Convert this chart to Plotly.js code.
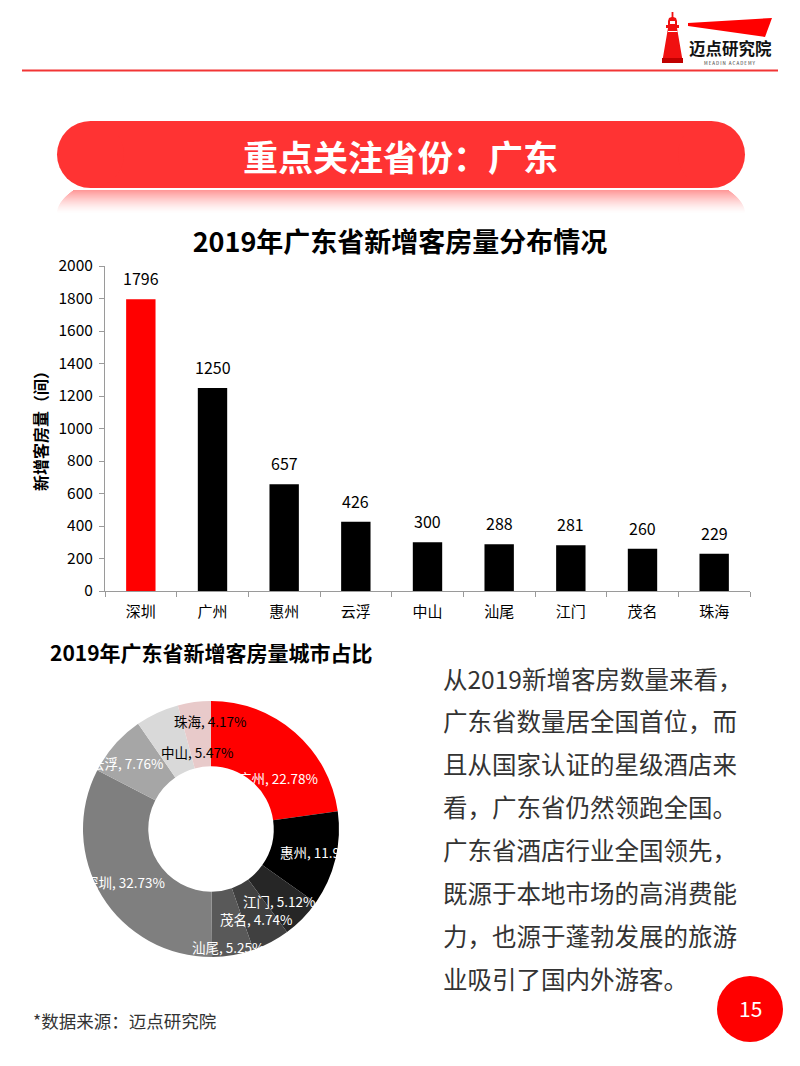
<!DOCTYPE html>
<html>
<head>
<meta charset="utf-8">
<script src="https://cdn.plot.ly/plotly-3.0.1.min.js"></script>
<style>
html,body{margin:0;padding:0;background:#fff;}
#chart{width:800px;height:1066px;}
</style>
</head>
<body>
<div id="chart"></div>
<script>
// ---- data ----
const cities = ['深圳','广州','惠州','云浮','中山','汕尾','江门','茂名','珠海'];
const rooms = [1796,1250,657,426,300,288,281,260,229];
const barColors = ['#ff0000','#000000','#000000','#000000','#000000','#000000','#000000','#000000','#000000'];
const yTicks = [0,200,400,600,800,1000,1200,1400,1600,1800,2000];
const pieOrder = ['广州','惠州','江门','茂名','汕尾','深圳','云浮','中山','珠海'];
const pieColors = ['#ff0000','#000000','#262626','#404040','#595959','#7f7f7f','#a6a6a6','#d9d9d9','#e8caca'];
const pieTextColors = ['#ffffff','#ffffff','#ffffff','#ffffff','#ffffff','#ffffff','#ffffff','#000000','#000000'];
const barTitle = '2019年广东省新增客房量分布情况';
const pieTitle = '2019年广东省新增客房量城市占比';
const yTitle = '新增客房量（间）';
const bannerText = '重点关注省份：广东';
const bodyLines = [
  '从2019新增客房数量来看，',
  '广东省数量居全国首位，而',
  '且从国家认证的星级酒店来',
  '看，广东省仍然领跑全国。',
  '广东省酒店行业全国领先，',
  '既源于本地市场的高消费能',
  '力，也源于蓬勃发展的旅游',
  '业吸引了国内外游客。'
];
const sourceText = '*数据来源：迈点研究院';
const pageNum = '15';

// label placement nudges (pixels) for the donut labels, in pieOrder
const pieLabelNudge = [[4,21],[16,0],[-1,5],[0,5],[0,23],[-4,3],[-12,-3],[26,10],[12,-13]];

// ---- helpers ----
const W = 800, H = 1066;
const FONT = "'Noto Sans CJK SC', 'Noto Sans', sans-serif";
const px = x => x / W;
const py = y => 1 - y / H;
const P = (x, y) => px(x) + ',' + py(y);

const shapes = [];
const annotations = [];

// header line
shapes.push({type:'rect', xref:'paper', yref:'paper', x0:px(22), x1:px(778), y0:py(71.5), y1:py(69.5), fillcolor:'#f23535', line:{width:0}});
// logo wedge
shapes.push({type:'path', xref:'paper', yref:'paper',
  path:'M'+P(688,23)+' L'+P(772,18)+' L'+P(765,37)+' L'+P(688,26)+' Z', fillcolor:'#ff0000', line:{width:0}});
// lighthouse
shapes.push({type:'path', xref:'paper', yref:'paper',
  path:'M'+P(671.6,12)+' L'+P(673.4,12)+' L'+P(673.4,17)+' L'+P(676,18)+' L'+P(677,21)+' L'+P(677,25)+
       ' L'+P(679,25)+' L'+P(679,28)+' L'+P(677,28)+' L'+P(683,63)+' L'+P(662,63)+' L'+P(668,28)+
       ' L'+P(666,28)+' L'+P(666,25)+' L'+P(668,25)+' L'+P(668,21)+' L'+P(669,18)+' L'+P(671.6,17)+' Z',
  fillcolor:'#f01010', line:{width:0}});
shapes.push({type:'rect', xref:'paper', yref:'paper', x0:px(670), x1:px(675), y0:py(24), y1:py(21), fillcolor:'#ffffff', line:{width:0}});
shapes.push({type:'rect', xref:'paper', yref:'paper', x0:px(668), x1:px(677.5), y0:py(32), y1:py(31), fillcolor:'#ffffff', line:{width:0}});
shapes.push({type:'rect', xref:'paper', yref:'paper', x0:px(662), x1:px(683), y0:py(63), y1:py(58), fillcolor:'#c00000', line:{width:0}});
annotations.push({xref:'paper', yref:'paper', x:px(730), y:py(48), xanchor:'center', yanchor:'middle', showarrow:false,
  text:'<b>迈点研究院</b>', font:{family:FONT, size:16.5, color:'#111'}});
annotations.push({xref:'paper', yref:'paper', x:px(730), y:py(63), xanchor:'center', yanchor:'middle', showarrow:false,
  text:'M E A D I N &nbsp; A C A D E M Y', font:{family:FONT, size:4.5, color:'#333'}});

// banner
const bc = '#ff3333';
shapes.push({type:'rect', xref:'paper', yref:'paper', x0:px(90), x1:px(712), y0:py(188), y1:py(121), fillcolor:bc, line:{width:0}});
shapes.push({type:'circle', xref:'paper', yref:'paper', x0:px(57), x1:px(124), y0:py(188), y1:py(121), fillcolor:bc, line:{width:0}});
shapes.push({type:'circle', xref:'paper', yref:'paper', x0:px(678), x1:px(745), y0:py(188), y1:py(121), fillcolor:bc, line:{width:0}});
// banner reflection (fading strips)
for (let d = 0; d < 23; d++) {
  const f = 1 - d / 23;
  const inset = 16 * Math.pow(f, 2);
  shapes.push({type:'rect', xref:'paper', yref:'paper', x0:px(57 + inset), x1:px(745 - inset),
    y0:py(190 + d + 1), y1:py(190 + d), fillcolor:bc, opacity:0.5 * Math.pow(f, 1.4), line:{width:0}, layer:'below'});
}
annotations.push({xref:'paper', yref:'paper', x:0.5, y:py(155), xanchor:'center', yanchor:'middle', showarrow:false,
  text:'<b>' + bannerText + '</b>', font:{family:FONT, size:35, color:'#ffffff'}});

// y-axis title
annotations.push({xref:'paper', yref:'paper', x:px(40), y:py(427), xanchor:'center', yanchor:'middle', showarrow:false,
  textangle:-90, text:'<b>' + yTitle + '</b>', font:{family:FONT, size:16, color:'#000'}});

// bar value labels (anchored to data through the axes)
cities.forEach((c, i) => {
  annotations.push({xref:'x', yref:'y', x:c, y:rooms[i], xanchor:'center', yanchor:'bottom', yshift:7, showarrow:false,
    text:String(rooms[i]), font:{family:FONT, size:16, color:'#000'}});
});

// pie title
annotations.push({xref:'paper', yref:'paper', x:px(211), y:py(652), xanchor:'center', yanchor:'middle', showarrow:false,
  text:'<b>' + pieTitle + '</b>', font:{family:FONT, size:21, color:'#000'}});

// body text
bodyLines.forEach((t, i) => {
  annotations.push({xref:'paper', yref:'paper', x:px(441), y:py(678 + i * 42.9), xanchor:'left', yanchor:'middle', showarrow:false,
    text:t, font:{family:FONT, size:24.5, color:'#333333'}});
});

// source
annotations.push({xref:'paper', yref:'paper', x:px(31), y:py(1020), xanchor:'left', yanchor:'middle', showarrow:false,
  text:sourceText, font:{family:FONT, size:17.5, color:'#333333'}});

// page number
shapes.push({type:'circle', xref:'paper', yref:'paper', x0:px(717), x1:px(783), y0:py(1042), y1:py(976), fillcolor:'#ff0000', line:{width:0}});
annotations.push({xref:'paper', yref:'paper', x:px(750), y:py(1008), xanchor:'center', yanchor:'middle', showarrow:false,
  text:pageNum, font:{family:FONT, size:21, color:'#ffffff'}});

// pie
const pieValues = pieOrder.map(c => rooms[cities.indexOf(c)]);
const pieDomX = [px(83), px(339)];
const pieDomY = [py(957), py(701)];
const cx = 211, cy = 829, rLab = 96;
const total = pieValues.reduce((a, b) => a + b, 0);
let cum = 0;
pieValues.forEach((v, i) => {
  const th = 2 * Math.PI * (cum + v / 2) / total;
  cum += v;
  const nx = pieLabelNudge[i][0], ny = pieLabelNudge[i][1];
  annotations.push({xref:'paper', yref:'paper', x:px(cx + rLab * Math.sin(th) + nx), y:py(cy - rLab * Math.cos(th) + ny),
    xanchor:'center', yanchor:'middle', showarrow:false,
    text:pieOrder[i] + ', ' + (v / total * 100).toFixed(2) + '%',
    font:{family:FONT, size:13.5, color:pieTextColors[i]}});
});

const traces = [
  {type:'bar', x:cities, y:rooms, marker:{color:barColors, line:{width:0}}, width:0.41,
   hoverinfo:'skip', showlegend:false},
  {type:'pie', labels:pieOrder, values:pieValues, marker:{colors:pieColors, line:{width:0}},
   hole:0.49, sort:false, direction:'clockwise', rotation:0, textinfo:'none', hoverinfo:'skip',
   domain:{x:pieDomX, y:pieDomY}, showlegend:false}
];

const layout = {
  width:W, height:H, margin:{l:0, r:0, t:0, b:0},
  paper_bgcolor:'#ffffff', plot_bgcolor:'#ffffff', showlegend:false,
  font:{family:FONT, color:'#000'},
  title:{text:'<b>' + barTitle + '</b>', x:0.5, xanchor:'center', xref:'paper', y:py(243), yref:'paper', yanchor:'middle',
    font:{family:FONT, size:27, color:'#000'}},
  xaxis:{domain:[px(105), px(750)], anchor:'y', showline:true, linecolor:'#9a9a9a', linewidth:1,
    ticks:'outside', tickson:'boundaries', ticklen:5, tickcolor:'#9a9a9a', ticklabelstandoff:7,
    tickfont:{family:FONT, size:15, color:'#000'},
    showgrid:false, zeroline:false, fixedrange:true},
  yaxis:{domain:[py(591), py(266)], anchor:'x', range:[0, 2000], tickvals:yTicks, ticktext:yTicks.map(String),
    showline:true, linecolor:'#9a9a9a', linewidth:1, ticks:'outside', ticklen:5, tickcolor:'#9a9a9a', ticklabelstandoff:3,
    tickfont:{family:FONT, size:15.5, color:'#000'}, showgrid:false, zeroline:false, fixedrange:true},
  shapes:shapes,
  annotations:annotations
};

Plotly.newPlot('chart', traces, layout, {staticPlot:true, displayModeBar:false});
</script>
</body>
</html>
